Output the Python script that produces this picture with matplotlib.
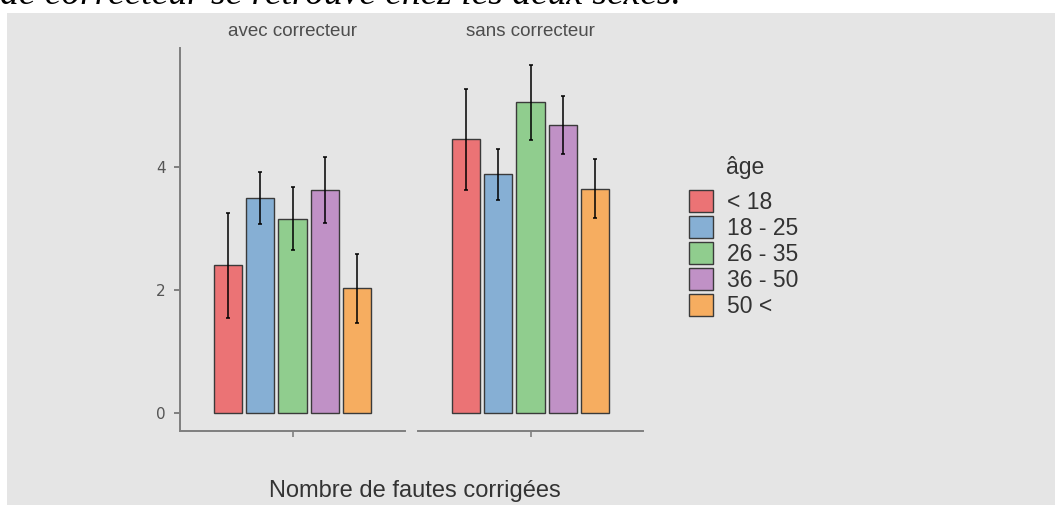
import matplotlib.pyplot as plt
from matplotlib.patches import Patch, Rectangle

# données
groupes = ["avec correcteur", "sans correcteur"]
ages = ["< 18", "18 - 25", "26 - 35", "36 - 50", "50 <"]
moy_avec = [2.40, 3.50, 3.16, 3.63, 2.03]
err_avec = [0.85, 0.42, 0.51, 0.54, 0.56]
moy_sans = [4.45, 3.88, 5.05, 4.68, 3.65]
err_sans = [0.82, 0.42, 0.61, 0.47, 0.48]
couleurs = ["#EB7375", "#86AFD4", "#90CD8E", "#C091C6", "#F6AD60"]

W, H = 1055, 505
fig = plt.figure(figsize=(W / 100, H / 100), dpi=100, facecolor="white")

# fond gris du panneau
fig.patches.append(Rectangle((7 / W, 0), 1, 1 - 13 / H, transform=fig.transFigure,
                             facecolor="#e5e5e5", edgecolor="none", zorder=-5))

# texte du document coupé en haut (comme sur la capture)
fig.text(0, 1 - 4 / H, "de correcteur se retrouve chez les deux sexes.",
         family="Liberation Serif", style="italic", fontsize=27, va="baseline", ha="left")

y0, y1 = -0.293, 5.935
gris = "#7f7f7f"

def panneau(x_px, moy, err, titre, axe_y):
    ax = fig.add_axes([x_px / W, (H - 431) / H, 225 / W, (431 - 48) / H])
    ax.set_facecolor("none")
    pos = [i - 2 for i in range(len(moy))]
    ax.bar(pos, moy, width=0.87, color=couleurs, edgecolor="#3a3a3a", linewidth=1.0, zorder=2)
    ax.errorbar(pos, moy, yerr=err, fmt="none", ecolor="black", elinewidth=1.1,
                capsize=1.2, capthick=1.1, zorder=3)
    ax.set_xlim(-3.48, 3.48)
    ax.set_ylim(y0, y1)
    ax.set_xticks([0])
    ax.set_xticklabels([""])
    for s in ["top", "right"]:
        ax.spines[s].set_visible(False)
    ax.spines["bottom"].set_color(gris)
    ax.spines["bottom"].set_linewidth(1.4)
    if axe_y:
        ax.spines["left"].set_color(gris)
        ax.spines["left"].set_linewidth(1.4)
        ax.set_yticks([0, 2, 4])
        ax.tick_params(axis="y", colors=gris, labelcolor="#555555", labelsize=11,
                       length=4.5, width=1.4, pad=6)
    else:
        ax.spines["left"].set_visible(False)
        ax.set_yticks([])
    ax.tick_params(axis="x", colors=gris, length=4, width=1.2)
    ax.text(0.5, 1 + 17 / 383, titre, transform=ax.transAxes, ha="center", va="center",
            fontsize=13.5, color="#4d4d4d", family="Liberation Sans")
    return ax

ax1 = panneau(180, moy_avec, err_avec, groupes[0], True)
ax2 = panneau(418, moy_sans, err_sans, groupes[1], False)

fig.text(415 / W, 1 - 491 / H, "Nombre de fautes corrigées", ha="center", va="center",
         fontsize=17, color="#333333", family="Liberation Sans")

# légende
poignees = [Patch(facecolor=c, edgecolor="#3a3a3a", linewidth=1.0) for c in couleurs]
fs = 16.5
px = fs * 100 / 72
leg = fig.legend(poignees, ages, loc="upper left", bbox_to_anchor=(689 / W, 1 - 190 / H),
                 frameon=False, handlelength=24 / px, handleheight=25 / px,
                 labelspacing=0.1, handletextpad=0.6,
                 borderpad=0, borderaxespad=0, prop={"family": "Liberation Sans", "size": fs})
for t in leg.get_texts():
    t.set_color("#333333")
fig.text(726 / W, 1 - 167 / H, "âge", ha="left", va="center", fontsize=16.5,
         color="#333333", family="Liberation Sans")

fig.savefig("out.png", dpi=100, facecolor="white")
